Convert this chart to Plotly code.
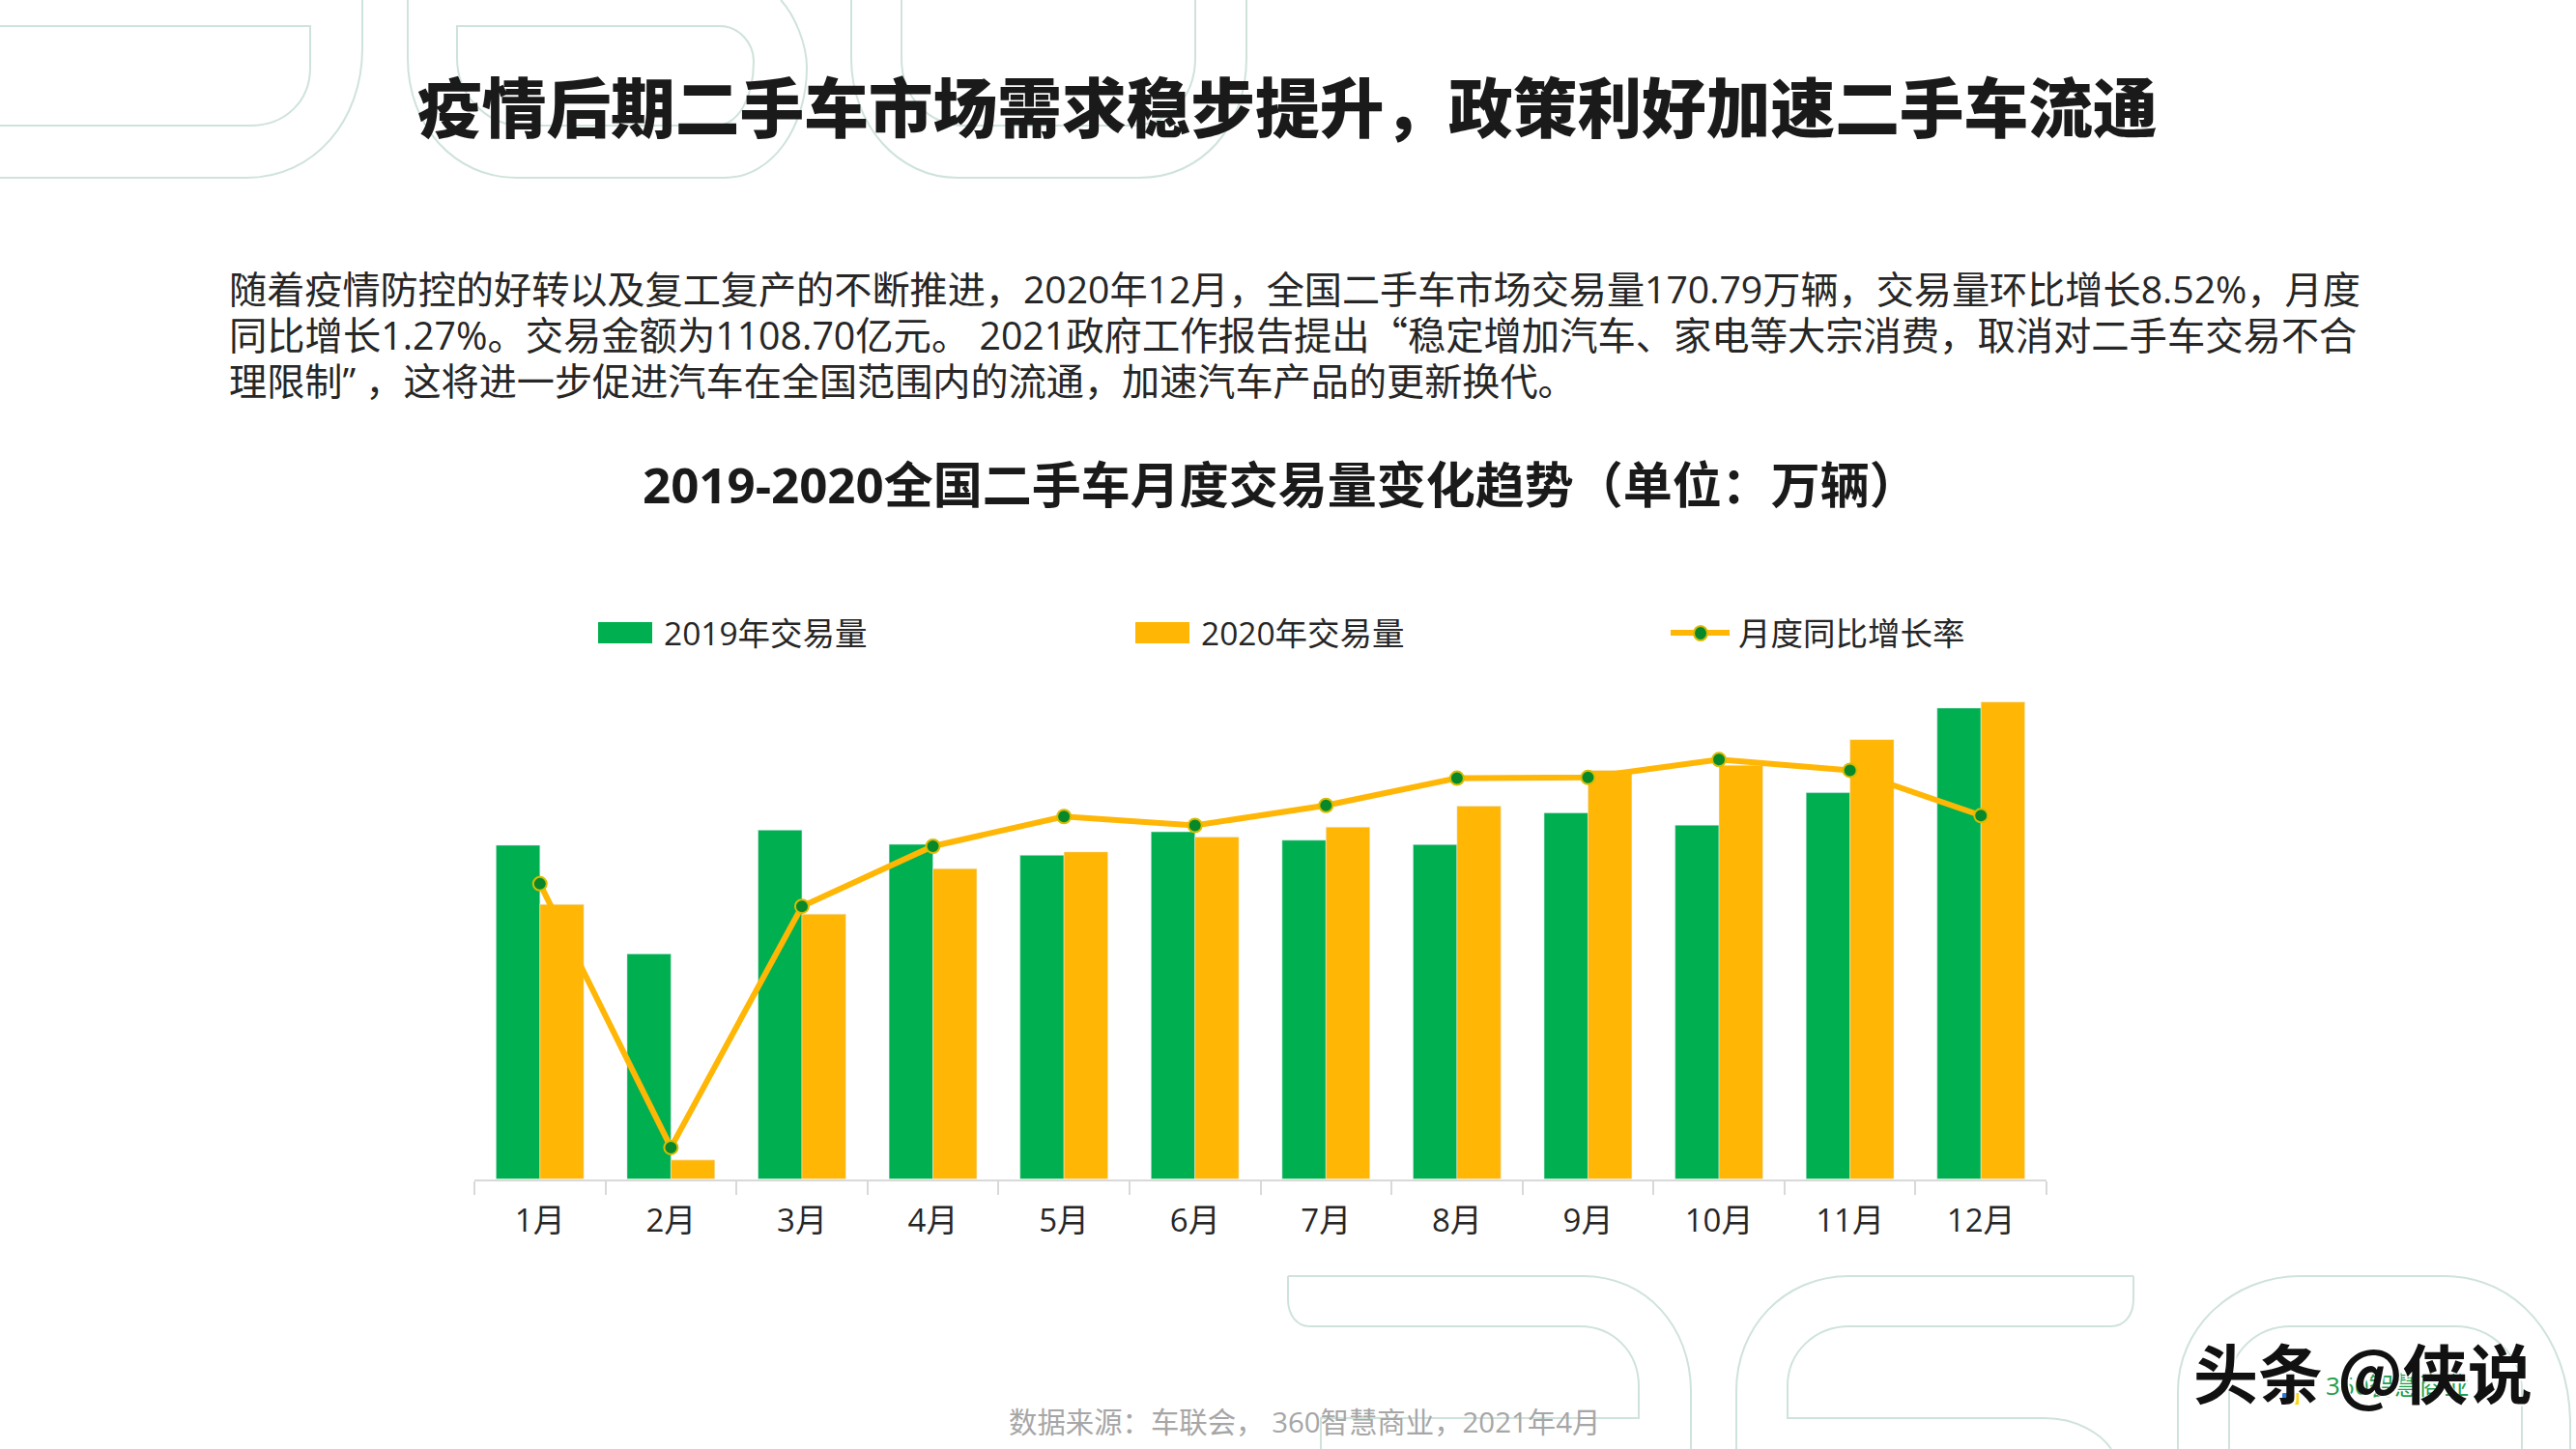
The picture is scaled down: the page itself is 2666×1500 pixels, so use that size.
import plotly.graph_objects as go

months = ["1月","2月","3月","4月","5月","6月","7月","8月","9月","10月","11月","12月"]
vol_2019 = [119.5,80.6,124.9,119.8,115.9,124.3,121.3,119.7,131.1,126.7,138.3,168.6]
vol_2020 = [98.3,6.8,94.8,111.1,117.1,122.4,126.0,133.5,146.3,148.1,157.3,170.79]
growth = [-17.8,-91.5,-24.1,-7.3,1.0,-1.5,4.1,11.7,11.9,16.9,13.9,1.27]

GREEN = "#00B050"
ORANGE = "#FFB605"
FONT = "Open Sans, Noto Sans CJK SC"
CJK = "Noto Sans CJK SC"
W, H = 2666, 1500
PLOT_L, PLOT_R, PLOT_T, PLOT_B = 491, 2118, 700, 1220.5

def fx(x): return x / W
def fy(y): return 1 - y / H

def path(*segs):
    out = []
    for s in segs:
        cmd, pts = s[0], s[1:]
        out.append(cmd + " ".join(f"{fx(pts[i]):.5f},{fy(pts[i+1]):.5f}" for i in range(0, len(pts), 2)))
    return " ".join(out)

OUTLINES = [
    # top-left digits
    path(("M",0,27),("L",321,27),("L",321,70),("C",321,105,295,130,259,130),("L",0,130)),
    path(("M",0,184),("L",255,184),("C",325,184,375,125,375,50),("L",375,0)),
    path(("M",422,0),("L",422,60),("C",422,130,470,184,535,184),("L",750,184),("C",800,184,835,130,835,70),("C",835,45,822,15,808,0)),
    path(("M",473,27),("L",745,27),("C",765,27,780,45,780,63),("C",780,100,765,130,740,130),("L",540,130),("C",505,130,473,100,473,60),("Z",)),
    path(("M",881,0),("L",881,60),("C",881,130,930,184,991,184),("L",1179,184),("C",1245,184,1290,130,1290,60),("L",1290,0)),
    path(("M",933,0),("L",933,60),("C",933,100,960,130,1000,130),("L",1170,130),("C",1210,130,1237,100,1237,60),("L",1237,0)),
    # bottom-right digits
    path(("M",1333,1321),("L",1638,1321),("C",1705,1321,1750,1375,1750,1440),("L",1750,1500)),
    path(("M",1333,1321),("L",1333,1345),("C",1333,1362,1343,1373,1355,1373),("L",1635,1373),("C",1670,1373,1696,1400,1696,1435),("L",1696,1468),("L",1367,1468),("L",1367,1500)),
    path(("M",2208,1321),("L",1914,1321),("C",1845,1321,1797,1375,1797,1440),("L",1797,1500)),
    path(("M",2208,1321),("L",2208,1345),("C",2208,1362,2198,1373,2185,1373),("L",1914,1373),("C",1878,1373,1850,1400,1850,1435),("L",1850,1468),("L",2116,1468),("C",2150,1468,2175,1485,2185,1500)),
    path(("M",2254,1500),("L",2254,1440),("C",2254,1375,2310,1321,2381,1321),("L",2530,1321),("C",2605,1321,2658,1385,2660,1470),("L",2660,1500)),
    path(("M",2307,1500),("L",2307,1435),("C",2307,1400,2335,1373,2371,1373),("L",2541,1373),("C",2580,1373,2610,1405,2610,1440),("L",2610,1500)),
]

shapes = [dict(type="path", path=p, xref="paper", yref="paper", layer="below",
               line=dict(color="#CFE3DA", width=2)) for p in OUTLINES]

def rect(x0, x1, y0, y1, color):
    return dict(type="rect", xref="paper", yref="paper", x0=fx(x0), x1=fx(x1), y0=fy(y1), y1=fy(y0),
                fillcolor=color, line=dict(width=0))

shapes += [rect(619, 675, 644, 666, GREEN), rect(1175, 1231, 644, 666, ORANGE),
           dict(type="line", xref="paper", yref="paper", x0=fx(1729), x1=fx(1790), y0=fy(655), y1=fy(655),
                line=dict(color=ORANGE, width=6)),
           dict(type="circle", xref="paper", yref="paper", x0=fx(1753), x1=fx(1767), y0=fy(663), y1=fy(648),
                fillcolor="#07892B", line=dict(color="#D9BC00", width=2)),
           rect(2362, 2369, 1442, 1453, "#2B7BD6"), rect(2372, 2379, 1442, 1454, "#FFD400")]

def text(s, x, y, size, color="#1A1A1A", anchor="left", weight=400, family=FONT, **kw):
    return dict(text=s, x=fx(x), y=fy(y), xref="paper", yref="paper", xanchor=anchor, yanchor="middle",
                showarrow=False, align=anchor,
                font=dict(family=family, size=size, color=color, weight=weight, **kw))

WIDE_QUOTE = '<span style="font-family:Noto Sans CJK SC">“</span>'

annotations = [
    text("疫情后期二手车市场需求稳步提升，政策利好加速二手车流通", 1332, 108, 66.7, anchor="center", weight=900, family=CJK),
    text("随着疫情防控的好转以及复工复产的不断推进，2020年12月，全国二手车市场交易量170.79万辆，交易量环比增长8.52%，月度", 235, 298, 39.15, "#262626"),
    text("同比增长1.27%。交易金额为1108.70亿元。 2021政府工作报告提出" + WIDE_QUOTE + "稳定增加汽车、家电等大宗消费，取消对二手车交易不合", 235, 345, 39.3, "#262626"),
    text("理限制” ，这将进一步促进汽车在全国范围内的流通，加速汽车产品的更新换代。", 235, 393, 39.15, "#262626"),
    text("2019-2020全国二手车月度交易量变化趋势（单位：万辆）", 1325, 501, 51, anchor="center", weight=700),
    text("2019年交易量", 685, 655, 33.5, "#262626"),
    text("2020年交易量", 1241, 655, 33.5, "#262626"),
    text("月度同比增长率", 1797, 655, 33.5, "#262626"),
    text("数据来源：车联会， 360智慧商业，2021年4月", 1042, 1472, 29.4, "#A6A6A6"),
    text("360智慧商业", 2405, 1434, 26, "#1E9E4A"),
    text("头条 @侠说", 2268, 1418, 67, "#111111", weight=700, family=CJK, shadow="2px 2px 1px #ffffff"),
]

fig = go.Figure()
fig.add_bar(x=months, y=vol_2019, name="2019年交易量", marker_color=GREEN, showlegend=False)
fig.add_bar(x=months, y=vol_2020, name="2020年交易量", marker_color=ORANGE, showlegend=False)
fig.add_scatter(x=months, y=growth, name="月度同比增长率", yaxis="y2", mode="lines+markers", showlegend=False,
                line=dict(color=ORANGE, width=6),
                marker=dict(color="#07892B", size=14, line=dict(color="#D9BC00", width=2)))

fig.update_layout(
    width=W, height=H, autosize=False,
    margin=dict(l=0, r=0, t=0, b=0, pad=0),
    paper_bgcolor="white", plot_bgcolor="rgba(0,0,0,0)",
    barmode="group", bargap=0.33, bargroupgap=0,
    showlegend=False,
    font=dict(family=FONT, color="#262626"),
    xaxis=dict(domain=[fx(PLOT_L), fx(PLOT_R)], range=[-0.5, 11.5], type="category",
               showgrid=False, zeroline=False, showline=True, linecolor="#D9D9D9", linewidth=2,
               ticks="outside", tickson="boundaries", ticklen=14, tickcolor="#D9D9D9", tickwidth=2,
               tickfont=dict(size=33, family=FONT, color="#262626"), ticklabelstandoff=13),
    yaxis=dict(domain=[fy(PLOT_B), fy(PLOT_T)], range=[0, 180], visible=False, showgrid=False, zeroline=False),
    yaxis2=dict(domain=[fy(PLOT_B), fy(PLOT_T)], range=[-100.3, 40.2], overlaying="y", visible=False,
                showgrid=False, zeroline=False, side="right"),
    shapes=shapes, annotations=annotations,
)

fig.write_html("out.html", config=dict(displayModeBar=False),
               post_script="document.body.style.margin='0';document.documentElement.style.overflow='hidden';")
